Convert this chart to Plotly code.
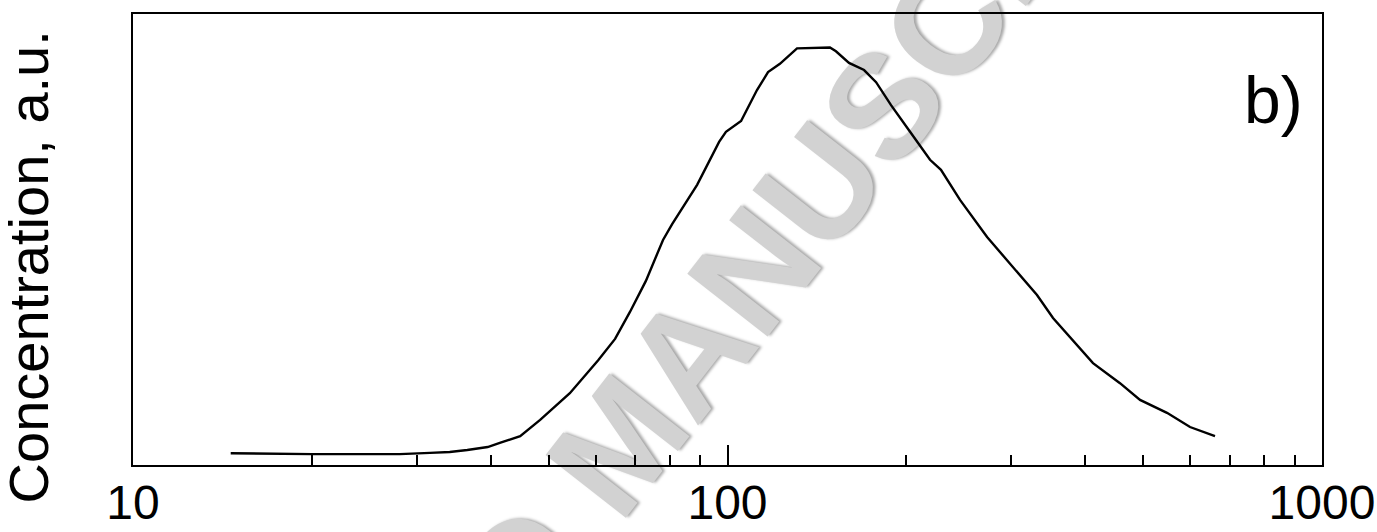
import plotly.graph_objects as go

# Particle size distribution (size in nm, concentration in arbitrary units)
size_nm = [
    14.6, 16.4, 20.0, 24.1, 28.1, 31.6, 34.1, 36.5, 39.5, 41.4,
    44.8, 48.4, 54.3, 60.6, 64.7, 68.5, 72.9, 77.9, 80.7, 88.9,
    96.8, 99.4, 105.4, 112.1, 117.0, 122.5, 130.9, 148.7, 152.2, 160.1,
    169.7, 177.8, 188.4, 202.8, 219.1, 228.6, 246.1, 273.3, 304.6, 331.6,
    352.8, 381.3, 411.9, 457.3, 494.2, 548.6, 599.8, 660.7,
]
concentration = [
    0.028, 0.027, 0.026, 0.026, 0.026, 0.029, 0.031, 0.036, 0.043, 0.053,
    0.069, 0.108, 0.172, 0.251, 0.302, 0.366, 0.441, 0.539, 0.577, 0.671,
    0.774, 0.798, 0.824, 0.898, 0.941, 0.961, 0.998, 1.000, 0.991, 0.963,
    0.946, 0.917, 0.862, 0.798, 0.731, 0.707, 0.635, 0.546, 0.467, 0.407,
    0.352, 0.299, 0.244, 0.196, 0.156, 0.125, 0.091, 0.069,
]

major_ticks = [10, 100, 1000]
major_labels = ["10", "100", "1000"]
minor_ticks = [20, 30, 40, 50, 60, 70, 80, 90, 200, 300, 400, 500, 600, 700, 800, 900]

FONT = "Liberation Sans, Arial, Helvetica, sans-serif"

fig = go.Figure(
    go.Scatter(
        x=size_nm,
        y=concentration,
        mode="lines",
        line=dict(color="black", width=2.4),
        hoverinfo="skip",
    )
)

fig.update_layout(
    width=1377,
    height=532,
    margin=dict(l=133, r=55, t=14, b=67, autoexpand=False),
    paper_bgcolor="white",
    plot_bgcolor="white",
    showlegend=False,
    xaxis=dict(
        type="log",
        range=[1, 3],
        automargin=False,
        tickvals=major_ticks,
        ticktext=major_labels,
        ticks="inside",
        ticklen=20,
        tickwidth=2,
        tickcolor="black",
        ticklabelstandoff=-6,
        showline=True,
        linewidth=2,
        linecolor="black",
        mirror=True,
        showgrid=False,
        zeroline=False,
        tickfont=dict(family=FONT, size=48, color="black"),
        minor=dict(
            tickvals=minor_ticks,
            ticks="inside",
            ticklen=10,
            tickwidth=2,
            tickcolor="black",
            showgrid=False,
        ),
    ),
    yaxis=dict(
        range=[0, 1.0802],
        automargin=False,
        showticklabels=False,
        ticks="",
        showline=True,
        linewidth=2,
        linecolor="black",
        mirror=True,
        showgrid=False,
        zeroline=False,
    ),
    annotations=[
        dict(
            text="Concentration, a.u.",
            xref="paper", yref="paper",
            x=-0.088, y=0.439,
            xanchor="center", yanchor="middle",
            textangle=-90,
            showarrow=False,
            font=dict(family=FONT, size=56, color="black"),
        ),
        dict(
            text="b)",
            xref="paper", yref="paper",
            x=0.9588, y=0.809,
            xanchor="center", yanchor="middle",
            showarrow=False,
            font=dict(family=FONT, size=66, color="black"),
        ),
    ],
    shapes=[
        dict(
            type="rect",
            xref="paper", yref="paper",
            x0=0.39, x1=0.41, y0=0.06, y1=0.08,
            line=dict(width=0),
            fillcolor="rgba(0,0,0,0)",
            layer="below",
            label=dict(
                text="ACCEPTED MANUSCRIPT",
                textangle=-52,
                textposition="middle center",
                font=dict(
                    family=FONT,
                    size=148,
                    color="#d2d2d2",
                    weight="bold",
                    shadow="2px 2px 3px #a8a8a8",
                ),
            ),
        )
    ],
)

fig.write_html("out.html")
